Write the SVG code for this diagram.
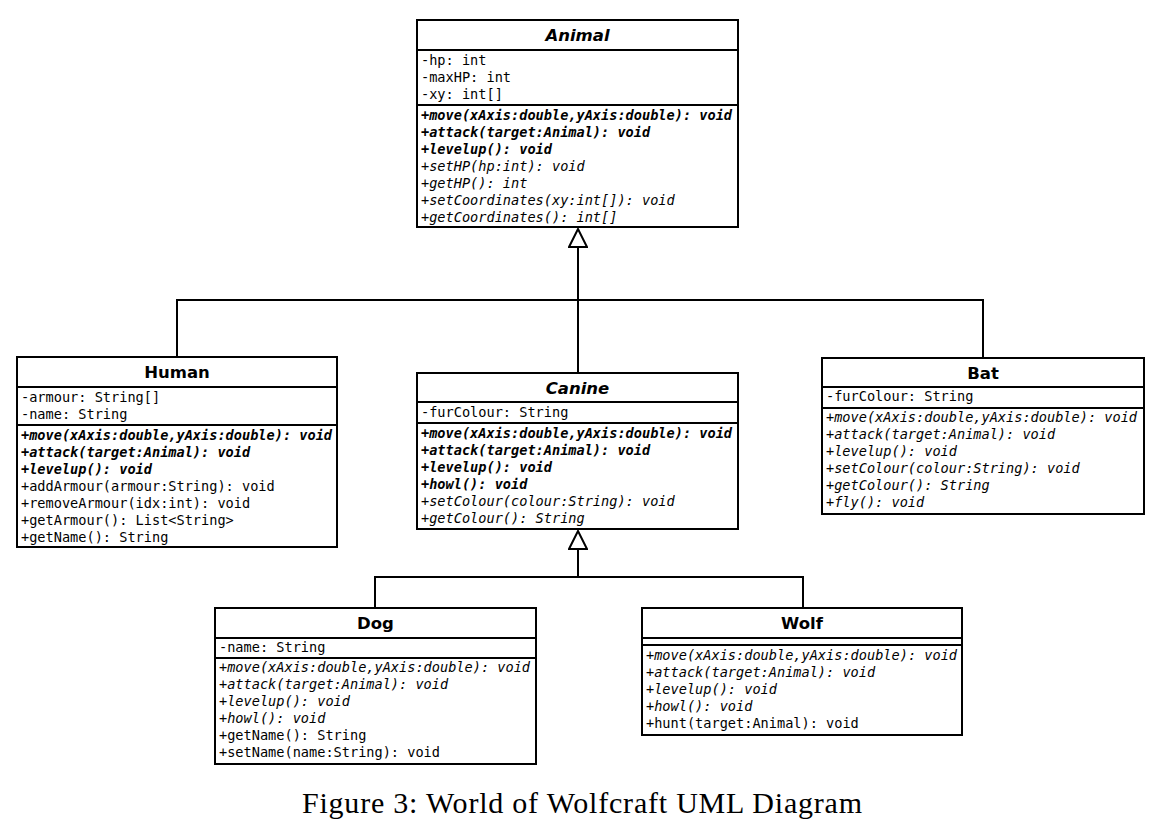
<svg xmlns="http://www.w3.org/2000/svg" width="1165" height="830" viewBox="0 0 1165 830">
<style>
.box{fill:#fff;stroke:#000;stroke-width:2}
.sep{stroke:#000;stroke-width:2}
.title{font-family:"DejaVu Sans",sans-serif;font-size:16.5px;font-weight:bold;text-anchor:middle;fill:#000}
.abs{font-style:oblique}
.m{font-family:"DejaVu Sans Mono",monospace;font-size:13.6px;fill:#000}
.bi{font-weight:bold;font-style:oblique}
.it{font-style:oblique}
.conn{fill:none;stroke:#000;stroke-width:2}
.cap{font-family:"Liberation Serif","Times New Roman",serif;font-size:30px;fill:#000;text-anchor:middle}
</style>
<defs>
<marker id="gen" viewBox="0 0 20 20" refX="19" refY="10" markerWidth="20" markerHeight="20" markerUnits="userSpaceOnUse" orient="auto">
<path d="M1,1 L19,10 L1,19 Z" fill="#fff" stroke="#000" stroke-width="2"/>
</marker>
</defs>
<rect width="1165" height="830" fill="#fff"/>

<g id="connectors">
<path class="conn" d="M578,373 L578,229" marker-end="url(#gen)"/>
<path class="conn" d="M177,357 L177,300 L983,300 L983,358"/>
<path class="conn" d="M375,608 L375,577 L803,577 L803,608"/>
<path class="conn" d="M578,577 L578,531" marker-end="url(#gen)"/>
</g>

<g id="Animal">
<rect class="box" x="417" y="20" width="321" height="207"/>
<line class="sep" x1="417" y1="50" x2="738" y2="50"/>
<line class="sep" x1="417" y1="105" x2="738" y2="105"/>
<text class="title abs" x="577.5" y="41">Animal</text>
<text class="m" x="421" y="65">-hp: int</text>
<text class="m" x="421" y="82">-maxHP: int</text>
<text class="m" x="421" y="99">-xy: int[]</text>
<text class="m bi" x="421" y="120">+move(xAxis:double,yAxis:double): void</text>
<text class="m bi" x="421" y="137">+attack(target:Animal): void</text>
<text class="m bi" x="421" y="154">+levelup(): void</text>
<text class="m it" x="421" y="171">+setHP(hp:int): void</text>
<text class="m it" x="421" y="188">+getHP(): int</text>
<text class="m it" x="421" y="205">+setCoordinates(xy:int[]): void</text>
<text class="m it" x="421" y="222">+getCoordinates(): int[]</text>
</g>

<g id="Human">
<rect class="box" x="17" y="357" width="320" height="190"/>
<line class="sep" x1="17" y1="387" x2="337" y2="387"/>
<line class="sep" x1="17" y1="425" x2="337" y2="425"/>
<text class="title" x="177" y="378">Human</text>
<text class="m" x="21" y="402">-armour: String[]</text>
<text class="m" x="21" y="419">-name: String</text>
<text class="m bi" x="21" y="440">+move(xAxis:double,yAxis:double): void</text>
<text class="m bi" x="21" y="457">+attack(target:Animal): void</text>
<text class="m bi" x="21" y="474">+levelup(): void</text>
<text class="m" x="21" y="491">+addArmour(armour:String): void</text>
<text class="m" x="21" y="508">+removeArmour(idx:int): void</text>
<text class="m" x="21" y="525">+getArmour(): List&lt;String&gt;</text>
<text class="m" x="21" y="542">+getName(): String</text>
</g>

<g id="Canine">
<rect class="box" x="417" y="373" width="321" height="156"/>
<line class="sep" x1="417" y1="402" x2="738" y2="402"/>
<line class="sep" x1="417" y1="423" x2="738" y2="423"/>
<text class="title abs" x="577.5" y="394">Canine</text>
<text class="m" x="421" y="417">-furColour: String</text>
<text class="m bi" x="421" y="438">+move(xAxis:double,yAxis:double): void</text>
<text class="m bi" x="421" y="455">+attack(target:Animal): void</text>
<text class="m bi" x="421" y="472">+levelup(): void</text>
<text class="m bi" x="421" y="489">+howl(): void</text>
<text class="m it" x="421" y="506">+setColour(colour:String): void</text>
<text class="m it" x="421" y="523">+getColour(): String</text>
</g>

<g id="Bat">
<rect class="box" x="822" y="358" width="322" height="156"/>
<line class="sep" x1="822" y1="387" x2="1144" y2="387"/>
<line class="sep" x1="822" y1="408" x2="1144" y2="408"/>
<text class="title" x="983" y="379">Bat</text>
<text class="m" x="826" y="401">-furColour: String</text>
<text class="m it" x="826" y="422">+move(xAxis:double,yAxis:double): void</text>
<text class="m it" x="826" y="439">+attack(target:Animal): void</text>
<text class="m it" x="826" y="456">+levelup(): void</text>
<text class="m it" x="826" y="473">+setColour(colour:String): void</text>
<text class="m it" x="826" y="490">+getColour(): String</text>
<text class="m it" x="826" y="507">+fly(): void</text>
</g>

<g id="Dog">
<rect class="box" x="215" y="608" width="321" height="156"/>
<line class="sep" x1="215" y1="638" x2="536" y2="638"/>
<line class="sep" x1="215" y1="658" x2="536" y2="658"/>
<text class="title" x="375.5" y="629">Dog</text>
<text class="m" x="219" y="652">-name: String</text>
<text class="m it" x="219" y="672">+move(xAxis:double,yAxis:double): void</text>
<text class="m it" x="219" y="689">+attack(target:Animal): void</text>
<text class="m it" x="219" y="706">+levelup(): void</text>
<text class="m it" x="219" y="723">+howl(): void</text>
<text class="m" x="219" y="740">+getName(): String</text>
<text class="m" x="219" y="757">+setName(name:String): void</text>
</g>

<g id="Wolf">
<rect class="box" x="642" y="608" width="320" height="127"/>
<line class="sep" x1="642" y1="638" x2="962" y2="638"/>
<line class="sep" x1="642" y1="645" x2="962" y2="645"/>
<text class="title" x="802" y="629">Wolf</text>
<text class="m it" x="646" y="660">+move(xAxis:double,yAxis:double): void</text>
<text class="m it" x="646" y="677">+attack(target:Animal): void</text>
<text class="m it" x="646" y="694">+levelup(): void</text>
<text class="m it" x="646" y="711">+howl(): void</text>
<text class="m" x="646" y="728">+hunt(target:Animal): void</text>
</g>

<text class="cap" x="582" y="813" textLength="560" lengthAdjust="spacing">Figure 3: World of Wolfcraft UML Diagram</text>
</svg>
